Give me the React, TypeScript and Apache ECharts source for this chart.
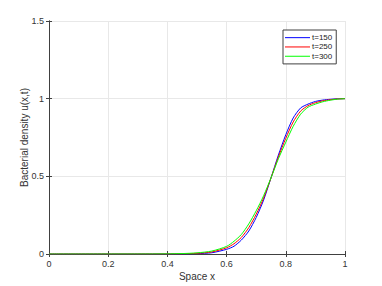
import React, { useEffect, useRef } from "react";
import * as echarts from "echarts";

const xs = [0, 0.1, 0.2, 0.3, 0.35, 0.4, 0.45, 0.5, 0.55, 0.6, 0.625, 0.65, 0.675, 0.7, 0.725, 0.75, 0.775, 0.8, 0.825, 0.85, 0.875, 0.9, 0.925, 0.95, 0.975, 1];
const uT150 = [0, 0, 0, 0, 0, 0.0001, 0.0008, 0.0025, 0.008, 0.03, 0.05, 0.09, 0.148, 0.235, 0.347, 0.49, 0.637, 0.768, 0.876, 0.94, 0.965, 0.982, 0.991, 0.996, 0.999, 1];
const uT250 = [0, 0, 0, 0, 0.0001, 0.0005, 0.0015, 0.0045, 0.013, 0.04, 0.066, 0.107, 0.17, 0.256, 0.36, 0.49, 0.625, 0.745, 0.85, 0.92, 0.955, 0.974, 0.986, 0.993, 0.998, 1];
const uT300 = [0, 0, 0, 0.0001, 0.0003, 0.001, 0.0028, 0.0073, 0.019, 0.049, 0.082, 0.126, 0.194, 0.278, 0.375, 0.49, 0.613, 0.72, 0.822, 0.9, 0.945, 0.965, 0.98, 0.99, 0.997, 1];
const seriesNames = ["t=150", "t=250", "t=300"];
const seriesColors = ["#0000ff", "#ff0000", "#00ff00"];
const seriesValues = [uT150, uT250, uT300];

const FONT = "Liberation Sans, Arial, sans-serif";
const AXIS = "#404040";

export default function App() {
  const ref = useRef<HTMLDivElement>(null);
  useEffect(() => {
    if (!ref.current) return;
    const chart = echarts.init(ref.current, null, { renderer: "svg" });
    const labelStyle = { color: "#333", fontSize: 9, fontFamily: FONT };
    chart.setOption({
      animation: false,
      backgroundColor: "#fff",
      grid: { left: 49, top: 21, right: 37, bottom: 31, containLabel: false },
      legend: {
        data: seriesNames.map((n) => ({ name: n, icon: "rect" })),
        orient: "vertical",
        left: 283,
        top: 30,
        width: 60,
        backgroundColor: "#fff",
        borderColor: AXIS,
        borderWidth: 1,
        borderRadius: 0,
        padding: [3, 4, 3, 2],
        itemGap: 0,
        itemWidth: 25,
        itemHeight: 1,
        textStyle: { color: "#222", fontSize: 8, fontFamily: FONT, padding: [0, 0, 0, -3], lineHeight: 9.3 },
      },
      xAxis: [
        {
          type: "value",
          min: 0,
          max: 1,
          interval: 0.2,
          name: "Space x",
          nameLocation: "middle",
          nameGap: 17,
          nameMoveOverlap: false,
          nameTextStyle: { color: "#333", fontSize: 10, fontFamily: FONT },
          axisLine: { lineStyle: { color: AXIS, width: 1 } },
          axisTick: { inside: true, length: 3, lineStyle: { color: AXIS } },
          axisLabel: { ...labelStyle, margin: 5 },
          splitLine: { show: true, lineStyle: { color: "#e8e8e8", width: 1 } },
        },
        {
          type: "value",
          position: "top",
          min: 0,
          max: 1,
          interval: 0.2,
          axisLine: { show: true, lineStyle: { color: AXIS, width: 1 } },
          axisTick: { show: true, inside: true, length: 3, lineStyle: { color: AXIS } },
          axisLabel: { show: false },
          splitLine: { show: false },
        },
      ],
      yAxis: [
        {
          type: "value",
          min: 0,
          max: 1.5,
          interval: 0.5,
          name: "Bacterial density u(x,t)",
          nameLocation: "middle",
          nameGap: 20,
          nameMoveOverlap: false,
          nameTextStyle: { color: "#333", fontSize: 10, fontFamily: FONT },
          axisLine: { show: true, lineStyle: { color: AXIS, width: 1 } },
          axisTick: { show: true, inside: true, length: 3, lineStyle: { color: AXIS } },
          axisLabel: { ...labelStyle, margin: 5 },
          splitLine: { show: true, lineStyle: { color: "#e8e8e8", width: 1 } },
        },
        {
          type: "value",
          position: "right",
          min: 0,
          max: 1.5,
          interval: 0.5,
          axisLine: { show: true, lineStyle: { color: AXIS, width: 1 } },
          axisTick: { show: true, inside: true, length: 3, lineStyle: { color: AXIS } },
          axisLabel: { show: false },
          splitLine: { show: false },
        },
      ],
      series: seriesValues.map((vals, i) => ({
        name: seriesNames[i],
        type: "line",
        xAxisIndex: 0,
        yAxisIndex: 0,
        data: xs.map((x, j) => [x, vals[j]]),
        symbol: "none",
        showSymbol: false,
        smooth: 0.25,
        lineStyle: { color: seriesColors[i], width: 1 },
        itemStyle: { color: seriesColors[i] },
      })),
    });
    return () => chart.dispose();
  }, []);
  return <div ref={ref} style={{ position: "fixed", left: 0, top: 0, width: 382, height: 286 }} />;
}
